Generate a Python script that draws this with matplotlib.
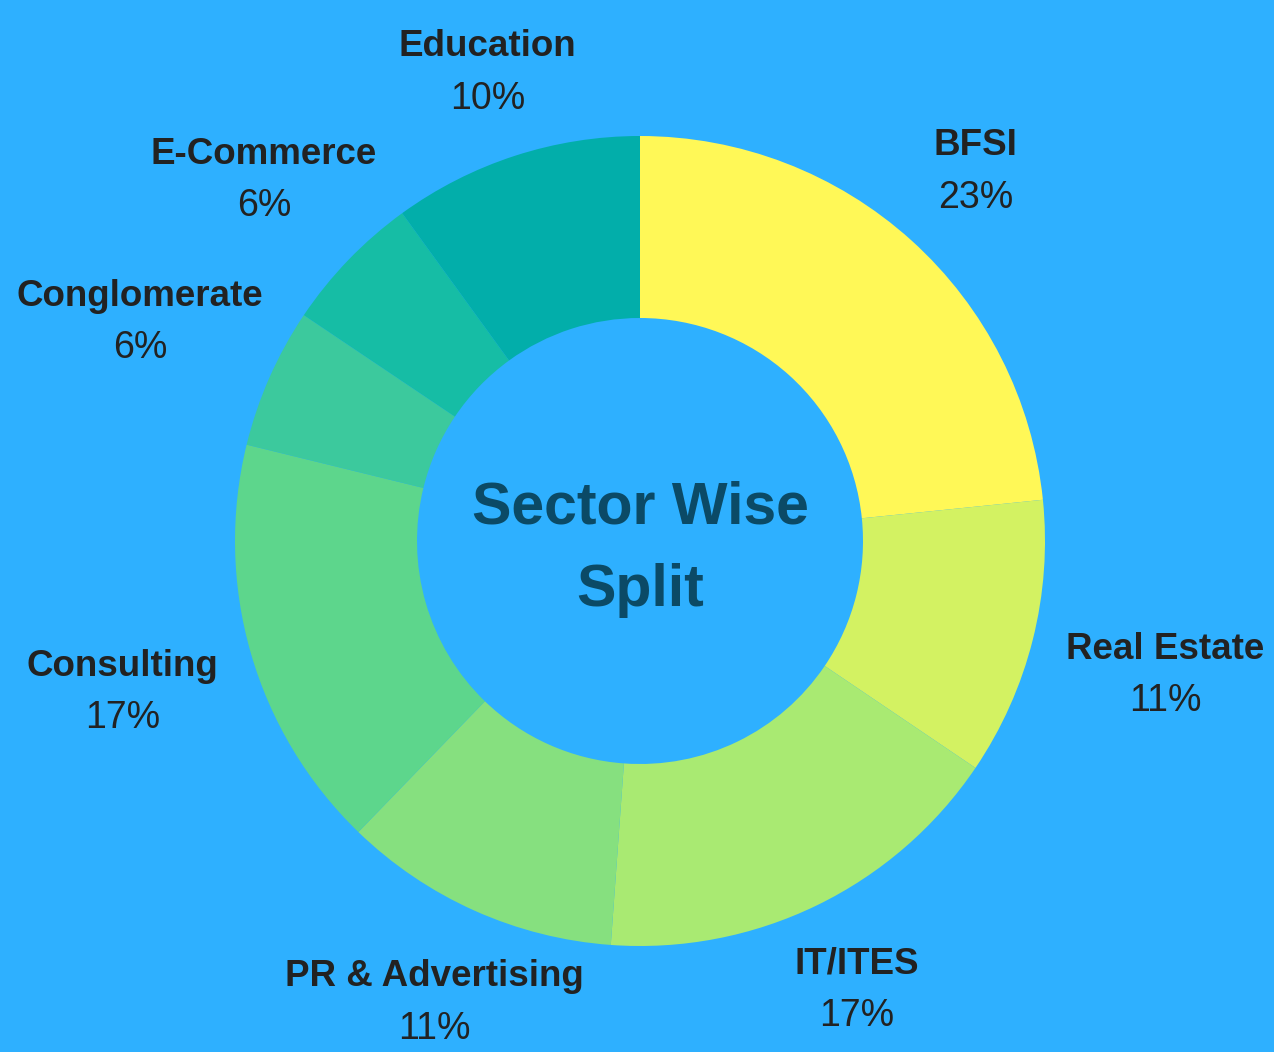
import numpy as np
import matplotlib
matplotlib.use("Agg")
import matplotlib.pyplot as plt

# sector shares
sectors = ["BFSI", "Real Estate", "IT/ITES", "PR & Advertising",
           "Consulting", "Conglomerate", "E-Commerce", "Education"]
shares = [23.4, 11.1, 16.7, 11.1, 16.6, 5.6, 5.6, 10.0]
colors = ["#FFF857", "#D3F262", "#A9EA72", "#86E07F",
          "#5DD68C", "#3CC99D", "#16BDA5", "#02AEAA"]

bg = "#2EB0FF"
W, H = 1274, 1052
R_PX = 405.0          # outer radius in pixels
CX, CY = 640, 511     # centre in pixels from bottom-left

fig = plt.figure(figsize=(W / 100, H / 100), dpi=100, facecolor=bg)
ax = fig.add_axes([0, 0, 1, 1])
ax.set_facecolor(bg)

ax.pie(shares, colors=colors, startangle=90, counterclock=False, radius=1.0,
       wedgeprops=dict(width=1 - 223 / R_PX, linewidth=0))

ax.set_xlim(-CX / R_PX, (W - CX) / R_PX)
ax.set_ylim(-CY / R_PX, (H - CY) / R_PX)
ax.set_aspect("auto")
ax.axis("off")

ax.text(0, -8 / R_PX, "Sector Wise\nSplit", ha="center", va="center",
        fontsize=42.5, fontweight="bold", color="#0B4A66",
        family="Liberation Sans", linespacing=1.65)

renderer = fig.canvas.get_renderer()
total = sum(shares)
cum = 0
for name, s in zip(sectors, shares):
    mid = np.radians((cum + s / 2) / total * 360)  # clockwise from top
    cum += s
    pct = "%d%%" % round(s / total * 100 + 1e-9)
    t1 = ax.text(0, 0, name, ha="center", va="center", fontsize=26.5,
                 fontweight="bold", color="#222222", family="Liberation Sans")
    t2 = ax.text(0, 0, pct, ha="center", va="center", fontsize=27,
                 color="#222222", family="Liberation Sans")
    hw = t1.get_window_extent(renderer).width / 2
    r = (490 + 0.55 * hw * np.sin(mid) ** 2) / R_PX
    x = r * np.sin(mid)
    y = r * np.cos(mid) - 2 / R_PX
    t1.set_position((x, y + 26 / R_PX))
    t2.set_position((x, y - 26 / R_PX))

fig.savefig("out.png", dpi=100, facecolor=bg)
